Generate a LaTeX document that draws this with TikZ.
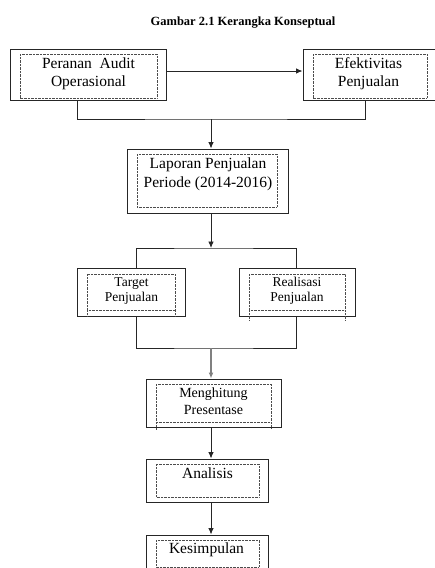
\documentclass[tikz,border=0pt]{standalone}
\usepackage{fontspec}
\setmainfont{Liberation Serif}
\usetikzlibrary{arrows.meta}
\begin{document}
\begin{tikzpicture}[x=1pt,y=-1pt,
  outerbox/.style={draw=black!85, line width=1pt, inner sep=0pt, fill=none},
  innerbox/.style={draw=black!70, line width=0.7pt, dash pattern=on 0.7pt off 0.7pt},
  conn/.style={draw=black!85, line width=0.85pt},
  arr/.style={conn, -{Latex[length=6.5pt,width=5.5pt]}},
  arrgray/.style={draw=black!50, line width=1.6pt, -{Latex[length=6pt,width=5pt]}},
  bigtxt/.style={anchor=base, inner sep=0pt, font=\fontsize{15.5}{18}\selectfont},
  midtxt/.style={anchor=base, inner sep=0pt, font=\fontsize{13.5}{15}\selectfont},
  medtxt/.style={anchor=base, inner sep=0pt, font=\fontsize{14}{16}\selectfont},
  titletxt/.style={anchor=base, inner sep=0pt, font=\bfseries\fontsize{12.5}{14}\selectfont}
]
\useasboundingbox (0,0) rectangle (435,568);
\clip (0,0) rectangle (435,568);

% title
\node[titletxt] (title) at (243,25) {Gambar 2.1 Kerangka Konseptual};

% outer boxes
\node[outerbox, minimum width=156pt, minimum height=51pt] (b1) at (88,74.5) {};
\node[outerbox, minimum width=137pt, minimum height=51pt] (b2) at (371.5,74.5) {};
\node[outerbox, minimum width=161pt, minimum height=64pt] (b3) at (207.5,181) {};
\node[outerbox, minimum width=108pt, minimum height=47.5pt] (b4) at (131,292.25) {};
\node[outerbox, minimum width=116pt, minimum height=47.5pt] (b5) at (297,292.25) {};
\node[outerbox, minimum width=135pt, minimum height=48pt] (b6) at (213.5,403) {};
\node[outerbox, minimum width=122pt, minimum height=43pt] (b7) at (207,480.5) {};
\node[outerbox, minimum width=122pt, minimum height=65pt] (b8) at (207,567.5) {};

% inner dotted frames
\draw[innerbox] (20,54) rectangle (157,98);
\draw[innerbox] (313,54) rectangle (427,98);
\draw[innerbox] (137,154) rectangle (277,207);
\draw[innerbox] (87,274) rectangle (175,310);
\draw[innerbox] (87,310) -- (87,316) (175,310) -- (175,316);
\draw[innerbox] (249,274) rectangle (345,310);
\draw[innerbox] (249,310) -- (249,320) (345,310) -- (345,320);
\draw[innerbox] (156,384) rectangle (271,422);
\draw[innerbox] (156,422) -- (156,430) (271,422) -- (271,428);
\draw[innerbox] (156,464) rectangle (259,497);
\draw[innerbox] (156,540) rectangle (259,567);

% texts
\node[bigtxt] (t1a) at (88.5,68) {Peranan\ \ Audit};
\node[bigtxt] (t1b) at (88.5,86.5) {Operasional};
\node[bigtxt] (t2a) at (368.5,68) {Efektivitas};
\node[bigtxt] (t2b) at (368.5,86.5) {Penjualan};
\node[bigtxt] (t3a) at (208,168) {Laporan Penjualan};
\node[bigtxt] (t3b) at (208,187) {Periode (2014-2016)};
\node[midtxt] (t4a) at (131.5,286.5) {Target};
\node[midtxt] (t4b) at (131.5,301.5) {Penjualan};
\node[midtxt] (t5a) at (297,286.5) {Realisasi};
\node[midtxt] (t5b) at (297,301.5) {Penjualan};
\node[medtxt] (t6a) at (213.5,397) {Menghitung};
\node[medtxt] (t6b) at (213.5,414) {Presentase};
\node[bigtxt] (t7) at (207.5,478) {Analisis};
\node[bigtxt] (t8) at (206.5,553) {Kesimpulan};

% connectors
\coordinate (j1) at (211,119);
\coordinate (j2) at (211,248);
\coordinate (j3) at (211,348);

\draw[arr] ([yshift=3.5pt]b1.east) -- ([yshift=3.5pt]b2.west);
\draw[conn] ([xshift=-11pt]b1.south) |- (j1) -| ([xshift=-6.5pt]b2.south);
\draw[arr] (j1) -- (j1 |- b3.north);
\draw[arr] (b3.south -| j2) -- (j2);
\draw[conn] ([xshift=5pt]b4.north) |- (j2) -| ([xshift=-1pt]b5.north);
\draw[conn] ([xshift=5pt]b4.south) |- (j3) -| ([xshift=-1pt]b5.south);
\draw[arrgray] (j3) -- (j3 |- b6.north);
\draw[arr] (b6.south -| j3) -- (b7.north -| j3);
\draw[arr] (b7.south -| j3) -- (b8.north -| j3);
\end{tikzpicture}
\end{document}
